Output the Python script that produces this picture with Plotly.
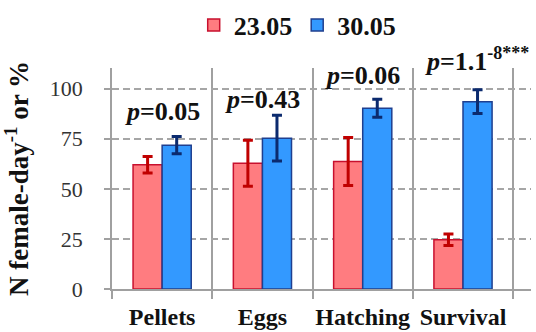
import plotly.graph_objects as go

# Measured values per category (mean ± error) for the two dates
categories = ["Pellets", "Eggs", "Hatching", "Survival"]
may23_values = [62.0, 62.8, 63.6, 24.6]
may23_errors = [4.1, 11.5, 12.0, 2.9]
may30_values = [71.8, 75.3, 90.2, 93.5]
may30_errors = [4.3, 11.4, 4.5, 5.9]
p_labels = ["<i>p</i>=0.05", "<i>p</i>=0.43", "<i>p</i>=0.06",
            "<i>p</i>=1.1<sup><span style='font-size:18px'>-8***</span></sup>"]
y_ticks = [0, 25, 50, 75, 100]
y_title = "<b>N female-day<sup>-1</sup> or %</b>"

SERIF = "Liberation Serif"
Y_MAX = 110.3

fig = go.Figure()
fig.add_trace(go.Bar(
    name="<b>23.05</b>", x=categories, y=may23_values,
    marker=dict(color="#FF7C80", line=dict(color="#C8102E", width=1.5)),
    error_y=dict(type="data", array=may23_errors, color="#C00000", thickness=3, width=5),
))
fig.add_trace(go.Bar(
    name="<b>30.05</b>", x=categories, y=may30_values,
    marker=dict(color="#3399FF", line=dict(color="#1F3F8F", width=1.5)),
    error_y=dict(type="data", array=may30_errors, color="#0B2A6E", thickness=3, width=5),
))

# p-value labels above each category (heights in data units, placed on paper so
# the last one may sit above the axis range)
label_y = [88.5, 94.4, 106.8, 114.3]
for i, (cat, txt) in enumerate(zip(categories, p_labels)):
    ann = dict(x=cat, y=label_y[i] / Y_MAX, xref="x", yref="paper", text="<b>" + txt + "</b>",
               showarrow=False, font=dict(family=SERIF, size=26, color="#111111"),
               yanchor="middle")
    if i == 3:
        ann.update(xanchor="left", xshift=-40)
    fig.add_annotation(**ann)

fig.update_layout(
    width=536, height=332,
    margin=dict(l=112, r=5, t=68, b=43, autoexpand=False),
    plot_bgcolor="white", paper_bgcolor="white",
    barmode="group", bargap=0.42, bargroupgap=0,
    showlegend=True,
    legend=dict(orientation="h", x=0.195, xanchor="left", y=0.995, yref="container",
                yanchor="top",
                font=dict(family=SERIF, size=26, color="#111111"),
                itemwidth=30, tracegroupgap=0),
    font=dict(family=SERIF),
)
fig.update_xaxes(
    type="category", tickson="boundaries", ticks="outside", ticklen=8,
    tickcolor="#A0A0A0", tickwidth=1.5,
    showgrid=True, gridcolor="#A0A0A0", gridwidth=1.5,
    showline=True, linecolor="#A0A0A0", linewidth=1.5,
    tickfont=dict(family=SERIF, size=24, color="#111111"), tickangle=0,
    tickprefix="<b>", ticksuffix="</b>", ticklabelstandoff=5, automargin=False,
)
fig.update_yaxes(
    range=[0, Y_MAX], tickvals=y_ticks, ticks="outside", ticklen=6,
    tickcolor="#A0A0A0", tickwidth=1.5,
    showgrid=True, gridcolor="#A6A6A6", gridwidth=1.5, griddash="7px,4px",
    zeroline=False,
    showline=True, linecolor="#A0A0A0", linewidth=1.5,
    tickfont=dict(family=SERIF, size=22, color="#333333"),
    ticklabelstandoff=17, automargin=False,
    title=dict(text=y_title, font=dict(family=SERIF, size=27, color="#111111"), standoff=16),
)

fig.write_html("out.html", config={"responsive": False})
